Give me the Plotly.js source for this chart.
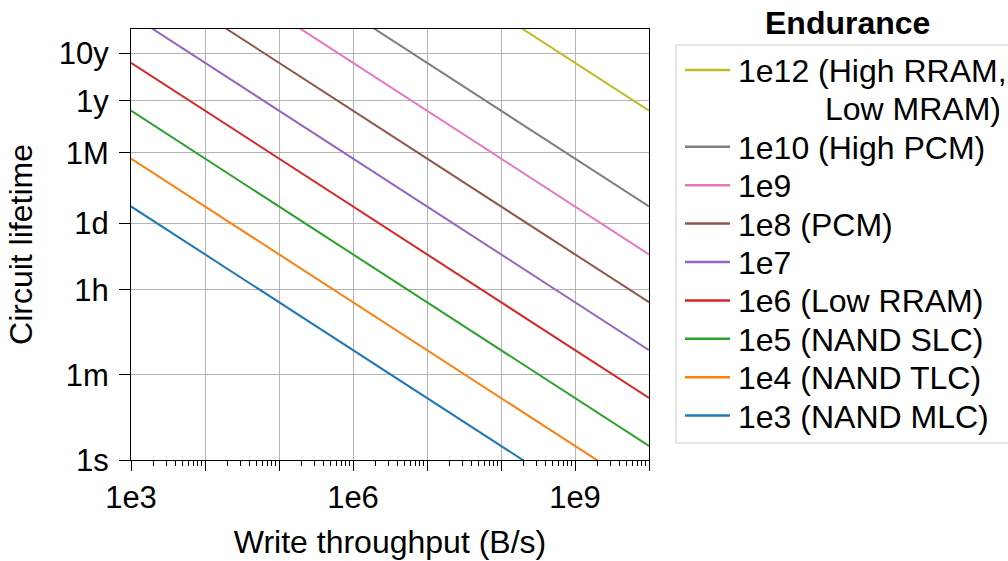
<!DOCTYPE html>
<html>
<head>
<meta charset="utf-8">
<script src="https://cdn.plot.ly/plotly-3.0.1.min.js"></script>
<style>html,body{margin:0;padding:0;background:#fff;}#chart{width:1008px;height:561px;}</style>
</head>
<body>
<div id="chart"></div>
<script>
// Series: endurance levels (drawing order bottom -> top of legend reversed)
const seriesNames = [
  "1e3 (NAND MLC)",
  "1e4 (NAND TLC)",
  "1e5 (NAND SLC)",
  "1e6 (Low RRAM)",
  "1e7",
  "1e8 (PCM)",
  "1e9",
  "1e10 (High PCM)",
  "1e12 (High RRAM,\nLow MRAM)"
];
const seriesColors = ["#1f77b4","#ff7f0e","#2ca02c","#d62728","#9467bd","#8c564b","#e377c2","#7f7f7f","#bcbd22"];
// Write throughput endpoints (B/s)
const throughput = [1e3, 1e10];
// Circuit lifetime (s) read at throughput 1e3 and 1e10
const lifetimeAtLow  = [1.97e5, 1.97e6, 1.97e7, 1.97e8, 1.97e9, 1.97e10, 1.97e11, 1.97e12, 1.97e14];
const lifetimeAtHigh = [0.0197, 0.197, 1.97, 19.7, 197, 1970, 19700, 197000, 1.97e7];
// Tick labels
const yTickVals = [1, 60, 3600, 86400, 2592000, 31536000, 315360000];
const yTickText = ["1s","1m","1h","1d","1M","1y","10y"];
const xTickVals = [1e3,1e4,1e5,1e6,1e7,1e8,1e9,1e10];
const xTickText = ["1e3","","","1e6","","","1e9",""];
const legendTitle = "Endurance";

const FONT = "Liberation Sans, Arial, Helvetica, sans-serif";

// plot area in pixels (for placing the legend drawn in paper coords)
const PL = 131, PR = 649, PT = 29, PB = 460;
const px = v => (v - PL) / (PR - PL);
const py = v => (PB - v) / (PB - PT);

const traces = seriesNames.map((name, i) => ({
  type: "scatter",
  mode: "lines",
  name: name.replace("\n", " "),
  x: throughput,
  y: [lifetimeAtLow[i], lifetimeAtHigh[i]],
  line: {color: seriesColors[i], width: 2},
  hoverinfo: "skip",
  showlegend: false
}));

// Legend (drawn as shapes + annotations)
const shapes = [{
  type: "rect", xref: "paper", yref: "paper",
  x0: px(676), x1: px(1030), y0: py(443), y1: py(45),
  line: {color: "#cccccc", width: 1}, fillcolor: "rgba(0,0,0,0)", layer: "above"
}];
const annotations = [{
  text: "<b>" + legendTitle + "</b>", xref: "paper", yref: "paper",
  x: px(847), y: py(23), xanchor: "center", yanchor: "middle",
  showarrow: false, font: {family: FONT, size: 32, color: "#000"}
}];
const ROW0 = 70, ROWSTEP = 38.4;
let row = 0;
for (let k = seriesNames.length - 1; k >= 0; k--) {
  const yc = ROW0 + ROWSTEP * row;
  shapes.push({
    type: "line", xref: "paper", yref: "paper",
    x0: px(685), x1: px(730), y0: py(yc), y1: py(yc),
    line: {color: seriesColors[k], width: 2.5}
  });
  const parts = seriesNames[k].split("\n");
  annotations.push({
    text: parts[0], xref: "paper", yref: "paper",
    x: px(736), y: py(yc + 1), xanchor: "left", yanchor: "middle",
    showarrow: false, font: {family: FONT, size: 32, color: "#000"}
  });
  row++;
  if (parts.length > 1) {
    const yc2 = ROW0 + ROWSTEP * row;
    annotations.push({
      text: parts[1], xref: "paper", yref: "paper",
      x: px(1003), y: py(yc2 + 1), xanchor: "right", yanchor: "middle",
      showarrow: false, font: {family: FONT, size: 32, color: "#000"}
    });
    row++;
  }
}

const layout = {
  width: 1008, height: 561,
  margin: {l: PL, r: 1008 - PR, t: PT, b: 561 - PB, autoexpand: false},
  paper_bgcolor: "#fff", plot_bgcolor: "#fff",
  font: {family: FONT, size: 31, color: "#000"},
  showlegend: false,
  shapes: shapes,
  annotations: annotations,
  xaxis: {
    type: "log", range: [3, 10],
    tickmode: "array", tickvals: xTickVals, ticktext: xTickText,
    ticks: "outside", ticklen: 10, tickcolor: "#000", tickwidth: 1,
    showgrid: true, gridcolor: "#b4b4b4", gridwidth: 1,
    showline: true, linecolor: "#000", linewidth: 1, mirror: true,
    zeroline: false,
    tickfont: {family: FONT, size: 31, color: "#000"},
    minor: {tickmode: "linear", dtick: "D1", ticks: "outside", ticklen: 5, tickcolor: "#000", showgrid: false},
    title: {text: "Write throughput (B/s)", font: {family: FONT, size: 32, color: "#000"}, standoff: 16}
  },
  yaxis: {
    type: "log", range: [0, 9],
    tickmode: "array", tickvals: yTickVals, ticktext: yTickText,
    ticks: "outside", ticklen: 11, tickcolor: "#000", tickwidth: 1,
    ticklabelstandoff: 4,
    showgrid: true, gridcolor: "#b4b4b4", gridwidth: 1,
    showline: true, linecolor: "#000", linewidth: 1, mirror: true,
    zeroline: false,
    tickfont: {family: FONT, size: 31, color: "#000"},
    title: {text: "Circuit lifetime", font: {family: FONT, size: 32, color: "#000"}, standoff: 16}
  }
};

Plotly.newPlot("chart", traces, layout, {staticPlot: true, displayModeBar: false});
</script>
</body>
</html>
